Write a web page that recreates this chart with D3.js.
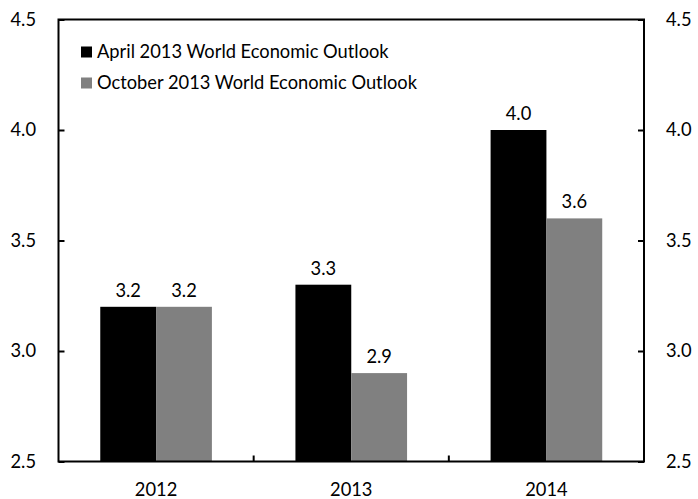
<!DOCTYPE html>
<html>
<head>
<meta charset="utf-8">
<script src="https://cdn.jsdelivr.net/npm/d3@7"></script>
<style>
  body { margin: 0; background: #fff; }
  svg text { font-family: Lato, "Open Sans", sans-serif; fill: #000; font-size: 18.3px; }
</style>
</head>
<body>
<div id="chart"></div>
<script>
var WIDTH = 698;
var HEIGHT = 499;

var years = ['2012', '2013', '2014'];
var seriesNames = ['April 2013 World Economic Outlook', 'October 2013 World Economic Outlook'];
var april = [3.2, 3.3, 4.0];
var october = [3.2, 2.9, 3.6];
var yTicks = [2.5, 3.0, 3.5, 4.0, 4.5];
var colors = ['#000000', '#808080'];

var plotLeft = 58.5, plotRight = 644, plotTop = 19.5, plotBottom = 461.5;

var svg = d3.select('#chart').append('svg')
	.attr('width', WIDTH)
	.attr('height', HEIGHT);

var y = d3.scaleLinear().domain([2.5, 4.5]).range([plotBottom, plotTop]);

var x0 = d3.scaleBand().domain(years).range([plotLeft, plotRight])
	.paddingInner(0.428).paddingOuter(0.214);

var x1 = d3.scaleBand().domain([0, 1]).range([0, x0.bandwidth()]);

var series = [april, october];

// bars and value labels
series.forEach(function (vals, s) {
	svg.append('g').selectAll('rect')
		.data(vals)
		.enter().append('rect')
		.attr('x', function (d, i) { return x0(years[i]) + x1(s); })
		.attr('y', function (d) { return y(d); })
		.attr('width', x1.bandwidth())
		.attr('height', function (d) { return y(2.5) - y(d); })
		.attr('fill', colors[s]);

	svg.append('g').selectAll('text')
		.data(vals)
		.enter().append('text')
		.attr('x', function (d, i) { return x0(years[i]) + x1(s) + x1.bandwidth() / 2; })
		.attr('y', function (d) { return y(d) - 10; })
		.attr('text-anchor', 'middle')
		.text(function (d) { return d.toFixed(1); });
});

// y axes, ticks pointing inward
var leftAxis = svg.append('g')
	.attr('transform', 'translate(' + plotLeft + ',0)')
	.call(d3.axisRight(y).tickValues(yTicks).tickSize(6).tickFormat(''));

var rightAxis = svg.append('g')
	.attr('transform', 'translate(' + plotRight + ',0)')
	.call(d3.axisLeft(y).tickValues(yTicks).tickSize(6).tickFormat(''));

[leftAxis, rightAxis].forEach(function (g) {
	g.select('.domain').remove();
	g.selectAll('.tick line').attr('stroke', '#000').attr('stroke-width', 2);
});

svg.append('g').selectAll('text')
	.data(yTicks)
	.enter().append('text')
	.attr('x', 36)
	.attr('y', function (d) { return y(d); })
	.attr('dy', '0.35em')
	.attr('text-anchor', 'end')
	.text(function (d) { return d.toFixed(1); });

svg.append('g').selectAll('text')
	.data(yTicks)
	.enter().append('text')
	.attr('x', 666)
	.attr('y', function (d) { return y(d); })
	.attr('dy', '0.35em')
	.attr('text-anchor', 'start')
	.text(function (d) { return d.toFixed(1); });

// bottom ticks between categories
var sepTicks = years.slice(1).map(function (yr) { return x0(yr) - x0.step() * x0.paddingInner() / 2; });
svg.append('g').selectAll('line')
	.data(sepTicks)
	.enter().append('line')
	.attr('x1', function (d) { return d; })
	.attr('x2', function (d) { return d; })
	.attr('y1', plotBottom)
	.attr('y2', plotBottom - 6)
	.attr('stroke', '#000')
	.attr('stroke-width', 2);

svg.append('g').selectAll('text')
	.data(years)
	.enter().append('text')
	.attr('x', function (d) { return x0(d) + x0.bandwidth() / 2; })
	.attr('y', 496)
	.attr('text-anchor', 'middle')
	.text(function (d) { return d; });

// frame
svg.append('rect')
	.attr('x', plotLeft)
	.attr('y', plotTop)
	.attr('width', plotRight - plotLeft)
	.attr('height', plotBottom - plotTop)
	.attr('fill', 'none')
	.attr('stroke', '#000')
	.attr('stroke-width', 2);

// legend
var legend = svg.append('g').selectAll('g')
	.data(seriesNames)
	.enter().append('g')
	.attr('transform', function (d, i) { return 'translate(81,' + (52 + i * 31) + ')'; });

legend.append('rect')
	.attr('x', 0)
	.attr('y', -5.5)
	.attr('width', 11)
	.attr('height', 11)
	.attr('fill', function (d, i) { return colors[i]; });

legend.append('text')
	.attr('x', 16)
	.attr('y', 0)
	.attr('dy', '0.35em')
	.text(function (d) { return d; });
</script>
</body>
</html>
